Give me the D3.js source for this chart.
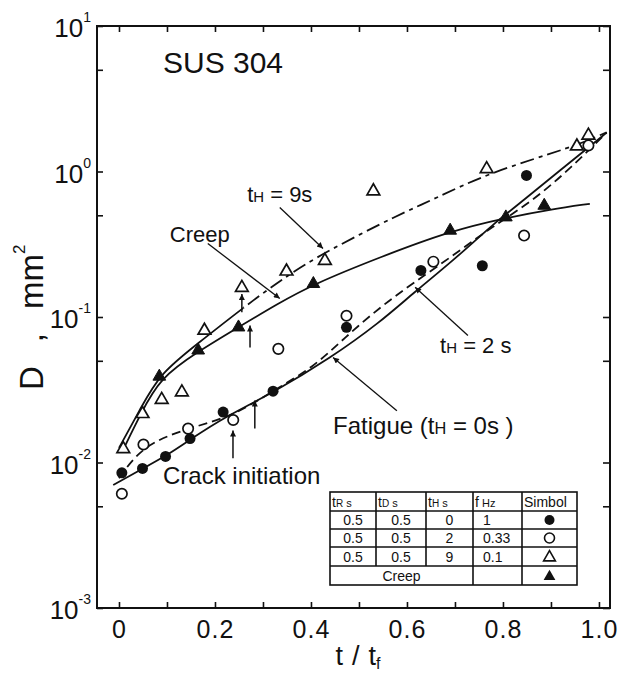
<!DOCTYPE html>
<html>
<head>
<meta charset="utf-8">
<script src="https://cdn.jsdelivr.net/npm/d3@7/dist/d3.min.js"></script>
<style>
  html, body { margin: 0; padding: 0; background: #fff; }
  svg { display: block; }
  text { font-family: "Liberation Sans", Arial, sans-serif; fill: #111; }
</style>
</head>
<body>
<svg id="chart" width="618" height="679"></svg>
<script>
// Crack area D versus life fraction t/tf for SUS 304 (log scale)
const xMajorTicks = [0, 0.2, 0.4, 0.6, 0.8, 1.0];
const xMinorTicks = [0, 0.1, 0.2, 0.3, 0.4, 0.5, 0.6, 0.7, 0.8, 0.9, 1.0];
const yDecadeTicks = [1e-3, 1e-2, 1e-1, 1e0, 1e1];
const yDecadeExponents = ["-3", "-2", "-1", "0", "1"];
const yMidTicks = [5e-3, 5e-2, 5e-1, 5];

// Measured points, [t/tf, D in mm^2]
const fatigue0s = [[0.006, 0.0085], [0.049, 0.0091], [0.097, 0.011], [0.148, 0.0146],
  [0.217, 0.0222], [0.321, 0.0309], [0.474, 0.085], [0.629, 0.209], [0.757, 0.225], [0.849, 0.94]];
const hold2s = [[0.006, 0.0061], [0.051, 0.0133], [0.144, 0.0171], [0.238, 0.0196],
  [0.332, 0.0604], [0.474, 0.102], [0.655, 0.240], [0.844, 0.363], [0.978, 1.51]];
const hold9s = [[0.009, 0.0124], [0.049, 0.0216], [0.089, 0.027], [0.131, 0.0304],
  [0.178, 0.0807], [0.256, 0.159], [0.349, 0.206], [0.429, 0.244], [0.53, 0.733],
  [0.766, 1.04], [0.954, 1.49], [0.978, 1.77]];
const creepPts = [[0.084, 0.039], [0.165, 0.059], [0.249, 0.085], [0.405, 0.169],
  [0.69, 0.393], [0.806, 0.485], [0.886, 0.583]];

// Fitted curves, [t/tf, D]
const curveFatigue = [[-0.012, 0.0070], [0.05, 0.0091], [0.10, 0.0112], [0.15, 0.0145],
  [0.22, 0.0205], [0.32, 0.030], [0.44, 0.052], [0.544, 0.092], [0.613, 0.146],
  [0.70, 0.25], [0.78, 0.437], [0.842, 0.63], [0.93, 1.09], [1.016, 1.85]];
const curveHold2s = [[0.0, 0.0078], [0.05, 0.0132], [0.144, 0.0172], [0.238, 0.0208],
  [0.32, 0.031], [0.405, 0.045], [0.47, 0.072], [0.544, 0.117], [0.613, 0.171],
  [0.70, 0.27], [0.776, 0.414], [0.863, 0.63], [0.94, 1.05], [1.016, 1.85]];
const curveHold9s = [[0.0, 0.0126], [0.045, 0.0235], [0.085, 0.041], [0.17, 0.068],
  [0.256, 0.114], [0.35, 0.193], [0.43, 0.28], [0.585, 0.51], [0.654, 0.64],
  [0.773, 0.99], [0.946, 1.47], [1.016, 1.86]];
const curveCreep = [[0.008, 0.0121], [0.045, 0.0215], [0.085, 0.038], [0.165, 0.058],
  [0.249, 0.085], [0.33, 0.123], [0.405, 0.168], [0.544, 0.258], [0.69, 0.39],
  [0.806, 0.48], [0.9, 0.55], [0.981, 0.60]];

// Crack initiation arrows: [t/tf, D at tail, D at head]
const crackArrows = [[0.2375, 0.0107, 0.0166], [0.283, 0.0171, 0.0267],
  [0.273, 0.0616, 0.0875], [0.256, 0.108, 0.144]];

// Legend table contents
const tableHeader = [["t", "R", " s"], ["t", "D", " s"], ["t", "H", " s"], ["f", "", "  Hz"], ["Simbol", "", ""]];
const tableRows = [
  ["0.5", "0.5", "0", "1", "filledCircle"],
  ["0.5", "0.5", "2", "0.33", "openCircle"],
  ["0.5", "0.5", "9", "0.1", "openTriangle"]
];
const tableCreepLabel = "Creep";

const svg = d3.select("#chart");
const W = 618, H = 679;
const plot = { left: 97, right: 610, top: 26, bottom: 608 };

const x = d3.scaleLinear().domain([-0.0458, 1.023]).range([plot.left, plot.right]);
const y = d3.scaleLog().domain([1e-3, 1e1]).range([plot.bottom, plot.top]);

svg.append("rect").attr("width", W).attr("height", H).attr("fill", "#fff");

// arrowhead marker
const defs = svg.append("defs");
defs.append("marker").attr("id", "head")
  .attr("viewBox", "0 0 10 10").attr("refX", 10).attr("refY", 5)
  .attr("markerUnits", "userSpaceOnUse").attr("markerWidth", 10).attr("markerHeight", 6)
  .attr("orient", "auto")
  .append("path").attr("d", "M0,0 L10,5 L0,10 Z").attr("fill", "#111");

// clip regions to split the 9 s curve into a solid start and a dash-dot rest
const splitT = 0.26;
defs.append("clipPath").attr("id", "clipLeft").append("rect")
  .attr("x", 0).attr("y", 0).attr("width", x(splitT)).attr("height", H);
defs.append("clipPath").attr("id", "clipRight").append("rect")
  .attr("x", x(splitT)).attr("y", 0).attr("width", W - x(splitT)).attr("height", H);

// ---- axes ----
const tickStyle = g => {
  g.select(".domain").remove();
  g.selectAll(".tick line").attr("stroke", "#111").attr("stroke-width", 1.6);
};
const isMajor = d => Math.round(d * 10) % 2 === 0;

svg.append("g").attr("transform", `translate(0,${plot.bottom})`)
  .call(d3.axisBottom(x).tickValues(xMinorTicks).tickSizeInner(-6).tickSizeOuter(0)
    .tickPadding(12).tickFormat(d => isMajor(d) ? (d === 0 ? "0" : d3.format(".1f")(d)) : ""))
  .call(tickStyle)
  .call(g => g.selectAll("text").attr("font-size", 25).attr("fill", "#111")
    .attr("font-family", "Liberation Sans, Arial, sans-serif").style("letter-spacing", "1px"));

svg.append("g").attr("transform", `translate(0,${plot.top})`)
  .call(d3.axisTop(x).tickValues(xMinorTicks).tickSizeInner(-6).tickSizeOuter(0).tickFormat(""))
  .call(tickStyle);

const yTickVals = yDecadeTicks.concat(yMidTicks);
svg.append("g").attr("transform", `translate(${plot.left},0)`)
  .call(d3.axisLeft(y).tickValues(yTickVals).tickSizeInner(-6).tickSizeOuter(0).tickFormat(""))
  .call(tickStyle);
svg.append("g").attr("transform", `translate(${plot.right},0)`)
  .call(d3.axisRight(y).tickValues(yTickVals).tickSizeInner(-7).tickSizeOuter(0).tickFormat(""))
  .call(tickStyle);

// decade labels 10^n
const yLabels = svg.append("g");
yDecadeTicks.forEach((v, i) => {
  const t = yLabels.append("text").attr("x", 91).attr("y", y(v) + 11)
    .attr("text-anchor", "end").attr("font-size", 26);
  t.append("tspan").text("10");
  t.append("tspan").attr("dy", -15).attr("font-size", 14).text(yDecadeExponents[i]);
});

// frame
svg.append("rect").attr("x", plot.left).attr("y", plot.top)
  .attr("width", plot.right - plot.left).attr("height", plot.bottom - plot.top)
  .attr("fill", "none").attr("stroke", "#111").attr("stroke-width", 2);

// axis titles
const xt = svg.append("text").attr("x", 358).attr("y", 665).attr("text-anchor", "middle")
  .attr("font-size", 27);
xt.append("tspan").text("t");
xt.append("tspan").attr("dx", 9).text("/");
xt.append("tspan").attr("dx", 9).text("t");
xt.append("tspan").attr("dy", 4).attr("font-size", 16).text("f");

const yt = svg.append("text").attr("transform", "translate(43,390) rotate(-90)")
  .attr("font-size", 33);
yt.append("tspan").text("D");
yt.append("tspan").attr("dx", 24).text(",");
yt.append("tspan").attr("dx", 24).text("mm");
yt.append("tspan").attr("dy", -18).attr("font-size", 17).text("2");

// ---- curves ----
const line = d3.line().x(d => x(d[0])).y(d => y(d[1])).curve(d3.curveBasis);
const curves = svg.append("g").attr("fill", "none").attr("stroke", "#111").attr("stroke-width", 1.8);
curves.append("path").attr("d", line(curveFatigue));
curves.append("path").attr("d", line(curveHold2s)).attr("stroke-dasharray", "9,5");
curves.append("path").attr("d", line(curveCreep));
curves.append("path").attr("d", line(curveHold9s)).attr("clip-path", "url(#clipLeft)");
curves.append("path").attr("d", line(curveHold9s)).attr("clip-path", "url(#clipRight)")
  .attr("stroke-dasharray", "14,5,4,5");

// ---- markers ----
const triOpen = d3.symbol().type(d3.symbolTriangle).size(70);
const marks = svg.append("g");
marks.selectAll(".fc").data(fatigue0s).join("circle")
  .attr("cx", d => x(d[0])).attr("cy", d => y(d[1])).attr("r", 5.5).attr("fill", "#111");
marks.selectAll(".oc").data(hold2s).join("circle")
  .attr("cx", d => x(d[0])).attr("cy", d => y(d[1])).attr("r", 5.2)
  .attr("fill", "#fff").attr("stroke", "#111").attr("stroke-width", 1.7);
marks.selectAll(".ot").data(hold9s).join("path")
  .attr("d", triOpen).attr("transform", d => `translate(${x(d[0])},${y(d[1])})`)
  .attr("fill", "#fff").attr("stroke", "#111").attr("stroke-width", 1.7);
marks.selectAll(".ft").data(creepPts).join("path")
  .attr("d", triOpen).attr("transform", d => `translate(${x(d[0])},${y(d[1])})`)
  .attr("fill", "#111").attr("stroke", "#111").attr("stroke-width", 1);

// crack initiation arrows
svg.append("g").selectAll("line").data(crackArrows).join("line")
  .attr("x1", d => x(d[0])).attr("x2", d => x(d[0]))
  .attr("y1", d => y(d[1])).attr("y2", d => y(d[2]))
  .attr("stroke", "#111").attr("stroke-width", 1.5).attr("marker-end", "url(#head)");

// ---- annotations ----
const pointers = [
  { from: [0.335, 0.566], to: [0.425, 0.296] },
  { from: [0.185, 0.32], to: [0.335, 0.134] },
  { from: [0.727, 0.0747], to: [0.617, 0.16] },
  { from: [0.579, 0.0227], to: [0.446, 0.0527] }
];
svg.append("g").selectAll("line").data(pointers).join("line")
  .attr("x1", d => x(d.from[0])).attr("y1", d => y(d.from[1]))
  .attr("x2", d => x(d.to[0])).attr("y2", d => y(d.to[1]))
  .attr("stroke", "#111").attr("stroke-width", 1.3).attr("marker-end", "url(#head)");

function label(parts, t, D, size) {
  const el = svg.append("text").attr("x", x(t)).attr("y", y(D)).attr("font-size", size);
  parts.forEach(p => {
    const s = el.append("tspan").text(p[0]);
    if (p[1]) s.attr("font-size", size * p[1]);
  });
  return el;
}
label([["SUS 304"]], 0.0917, 4.79, 30);
label([["t"], ["H", 0.68], [" = 9s"]], 0.267, 0.622, 22);
label([["Creep"]], 0.106, 0.33, 22);
label([["t"], ["H", 0.68], [" = 2 s"]], 0.669, 0.057, 22);
label([["Fatigue ("], ["t"], ["H", 0.68], [" = 0s )"]], 0.446, 0.0158, 24);
label([["Crack initiation"]], 0.0917, 0.00706, 24);

// ---- legend table ----
const cols = [330, 376, 426, 473, 522, 577];
const rows = [492, 511, 529, 547, 566, 585];
const tbl = svg.append("g");
const ln = (x1, y1, x2, y2) => tbl.append("line").attr("x1", x1).attr("y1", y1)
  .attr("x2", x2).attr("y2", y2).attr("stroke", "#111").attr("stroke-width", 1.6);
tbl.append("rect").attr("x", cols[0]).attr("y", rows[0])
  .attr("width", cols[5] - cols[0]).attr("height", rows[5] - rows[0])
  .attr("fill", "#fff").attr("stroke", "#111").attr("stroke-width", 1.6);
rows.slice(1, 5).forEach(r => ln(cols[0], r, cols[5], r));
[cols[1], cols[2]].forEach(c => ln(c, rows[0], c, rows[4]));
[cols[3], cols[4]].forEach(c => ln(c, rows[0], c, rows[5]));

tableHeader.forEach((h, i) => {
  const t = tbl.append("text").attr("x", cols[i] + 2).attr("y", rows[1] - 4)
    .attr("font-size", 14);
  t.append("tspan").text(h[0]);
  if (h[1]) t.append("tspan").attr("font-size", 10).text(h[1]);
  if (h[2]) t.append("tspan").attr("font-size", 11).text(h[2]);
});

const cellSym = d3.symbol().type(d3.symbolTriangle).size(60);
tableRows.forEach((r, i) => {
  const yb = rows[i + 2] - 4;
  const yc = (rows[i + 1] + rows[i + 2]) / 2;
  [0, 1, 2].forEach(c => tbl.append("text").attr("x", (cols[c] + cols[c + 1]) / 2).attr("y", yb)
    .attr("text-anchor", "middle").attr("font-size", 14).text(r[c]));
  tbl.append("text").attr("x", cols[3] + 10).attr("y", yb).attr("font-size", 14).text(r[3]);
  const cx = (cols[4] + cols[5]) / 2;
  if (r[4] === "filledCircle") tbl.append("circle").attr("cx", cx).attr("cy", yc).attr("r", 5).attr("fill", "#111");
  if (r[4] === "openCircle") tbl.append("circle").attr("cx", cx).attr("cy", yc).attr("r", 5)
    .attr("fill", "#fff").attr("stroke", "#111").attr("stroke-width", 1.6);
  if (r[4] === "openTriangle") tbl.append("path").attr("d", cellSym)
    .attr("transform", `translate(${cx},${yc + 1})`).attr("fill", "#fff").attr("stroke", "#111").attr("stroke-width", 1.6);
});
tbl.append("text").attr("x", (cols[0] + cols[3]) / 2).attr("y", rows[5] - 4)
  .attr("text-anchor", "middle").attr("font-size", 14).text(tableCreepLabel);
tbl.append("path").attr("d", cellSym)
  .attr("transform", `translate(${(cols[4] + cols[5]) / 2},${(rows[4] + rows[5]) / 2 + 1})`)
  .attr("fill", "#111");
</script>
</body>
</html>
